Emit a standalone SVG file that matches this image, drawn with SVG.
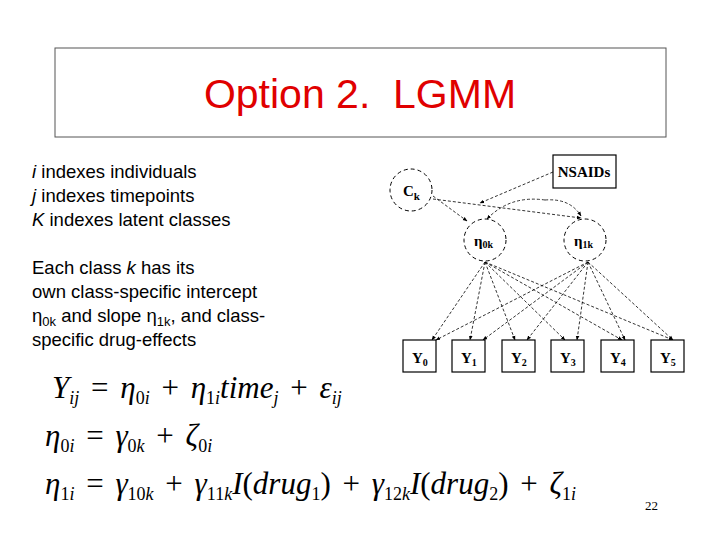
<svg xmlns="http://www.w3.org/2000/svg" width="720" height="540" viewBox="0 0 720 540">
<style>
.t{font-family:"Liberation Sans",Arial,sans-serif;font-size:18.5px;fill:#000}
.n{font-family:"Liberation Serif","Times New Roman",serif;font-weight:bold;font-size:15px;fill:#000}
.eq{font-family:"Liberation Serif","Times New Roman",serif;font-style:italic;font-size:31px;fill:#000;word-spacing:4px}
.box{fill:#fff;stroke:#000;stroke-width:1.2}
.c{fill:#fff;stroke:#000;stroke-width:1;stroke-dasharray:4 3}
.e{fill:none;stroke:#000;stroke-width:0.8;stroke-dasharray:3 2;marker-end:url(#a)}
</style>
<defs><marker id="a" viewBox="0 0 8 8" refX="7" refY="4" markerWidth="6" markerHeight="6" orient="auto"><path d="M0,1 L8,4 L0,7z" fill="#000"/></marker></defs>
<rect width="720" height="540" fill="#fff"/>
<g id="title"><rect x="55" y="48" width="611" height="89" fill="#fff" stroke="#555"/>
<text x="360" y="108" text-anchor="middle" xml:space="preserve" font-family="Liberation Sans,Arial,sans-serif" font-size="41" fill="#e00000">Option 2.  LGMM</text></g>
<g id="legend">
<text class="t" x="32" y="178"><tspan font-style="italic">i</tspan> indexes individuals</text>
<text class="t" x="32" y="202"><tspan font-style="italic">j</tspan> indexes timepoints</text>
<text class="t" x="32" y="226"><tspan font-style="italic">K</tspan> indexes latent classes</text>
<text class="t" x="32" y="274">Each class <tspan font-style="italic">k</tspan> has its</text>
<text class="t" x="32" y="298">own class-specific intercept</text>
<text class="t" x="32" y="322">η<tspan font-size="13" dy="4">0k</tspan><tspan dy="-4"> and slope η</tspan><tspan font-size="13" dy="4">1k</tspan><tspan dy="-4">, and class-</tspan></text>
<text class="t" x="32" y="346">specific drug-effects</text>
</g>
<g id="connectors">
<path class="e" d="M433,196 L467,221"/>
<path class="e" d="M433,199 L581,218"/>
<path class="e" d="M553,172 L480,203"/>
<path class="e" d="M545,200 Q510,195 487,219"/>
<path class="e" d="M545,200 Q570,198 581,216"/>
<path class="e" d="M485,262 L432,340"/>
<path class="e" d="M485,262 L470,340"/>
<path class="e" d="M485,262 L515,340"/>
<path class="e" d="M485,262 L565,340"/>
<path class="e" d="M485,262 L622,340"/>
<path class="e" d="M485,262 L673,340"/>
<path class="e" d="M588,262 L436,340"/>
<path class="e" d="M588,262 L483,340"/>
<path class="e" d="M588,262 L527,340"/>
<path class="e" d="M588,262 L577,340"/>
<path class="e" d="M588,262 L625,340"/>
<path class="e" d="M588,262 L673,340"/>
</g>
<g id="Ck"><circle class="c" cx="411" cy="190" r="21"/><text class="n" x="403" y="196">C<tspan font-size="11" dy="4">k</tspan></text></g>
<g id="NSAIDs"><rect class="box" x="553" y="155" width="63" height="33"/><text class="n" x="584" y="177" text-anchor="middle" font-size="14">NSAIDs</text></g>
<g id="eta0k"><circle class="c" cx="485" cy="240" r="21"/><text class="n" x="474" y="246">η<tspan font-size="10" dy="2">0k</tspan></text></g>
<g id="eta1k"><circle class="c" cx="585" cy="240" r="21"/><text class="n" x="574" y="246">η<tspan font-size="10" dy="2">1k</tspan></text></g>
<g id="Y0"><rect class="box" x="403" y="340" width="33" height="32"/><text class="n" x="412" y="363">Y<tspan font-size="10" dy="3">0</tspan></text></g>
<g id="Y1"><rect class="box" x="452" y="340" width="33" height="32"/><text class="n" x="461" y="363">Y<tspan font-size="10" dy="3">1</tspan></text></g>
<g id="Y2"><rect class="box" x="502" y="340" width="33" height="32"/><text class="n" x="511" y="363">Y<tspan font-size="10" dy="3">2</tspan></text></g>
<g id="Y3"><rect class="box" x="551" y="340" width="33" height="32"/><text class="n" x="560" y="363">Y<tspan font-size="10" dy="3">3</tspan></text></g>
<g id="Y4"><rect class="box" x="601" y="340" width="33" height="32"/><text class="n" x="610" y="363">Y<tspan font-size="10" dy="3">4</tspan></text></g>
<g id="Y5"><rect class="box" x="651" y="340" width="33" height="32"/><text class="n" x="660" y="363">Y<tspan font-size="10" dy="3">5</tspan></text></g>
<g id="equations">
<text class="eq" x="52" y="398">Y<tspan font-size="18" dy="6">ij</tspan><tspan dy="-6" font-style="normal"> = </tspan>η<tspan font-size="18" dy="6" font-style="normal">0</tspan><tspan font-size="18">i</tspan><tspan dy="-6" font-style="normal"> + </tspan>η<tspan font-size="18" dy="6" font-style="normal">1</tspan><tspan font-size="18">i</tspan><tspan dy="-6">time</tspan><tspan font-size="18" dy="6">j</tspan><tspan dy="-6" font-style="normal"> + </tspan>ε<tspan font-size="18" dy="6">ij</tspan></text>
<text class="eq" x="45" y="446">η<tspan font-size="18" dy="6" font-style="normal">0</tspan><tspan font-size="18">i</tspan><tspan dy="-6" font-style="normal"> = </tspan>γ<tspan font-size="18" dy="6" font-style="normal">0</tspan><tspan font-size="18">k</tspan><tspan dy="-6" font-style="normal"> + </tspan>ζ<tspan font-size="18" dy="6" font-style="normal">0</tspan><tspan font-size="18">i</tspan></text>
<text class="eq" x="45" y="494">η<tspan font-size="18" dy="6" font-style="normal">1</tspan><tspan font-size="18">i</tspan><tspan dy="-6" font-style="normal"> = </tspan>γ<tspan font-size="18" dy="6" font-style="normal">10</tspan><tspan font-size="18">k</tspan><tspan dy="-6" font-style="normal"> + </tspan>γ<tspan font-size="18" dy="6" font-style="normal">11</tspan><tspan font-size="18">k</tspan><tspan dy="-6">I</tspan><tspan font-style="normal">(</tspan>drug<tspan font-size="18" dy="6" font-style="normal">1</tspan><tspan dy="-6" font-style="normal">) + </tspan>γ<tspan font-size="18" dy="6" font-style="normal">12</tspan><tspan font-size="18">k</tspan><tspan dy="-6">I</tspan><tspan font-style="normal">(</tspan>drug<tspan font-size="18" dy="6" font-style="normal">2</tspan><tspan dy="-6" font-style="normal">) + </tspan>ζ<tspan font-size="18" dy="6" font-style="normal">1</tspan><tspan font-size="18">i</tspan></text>
</g>
<text x="645" y="510" font-family="Liberation Serif,serif" font-size="13">22</text>
</svg>
